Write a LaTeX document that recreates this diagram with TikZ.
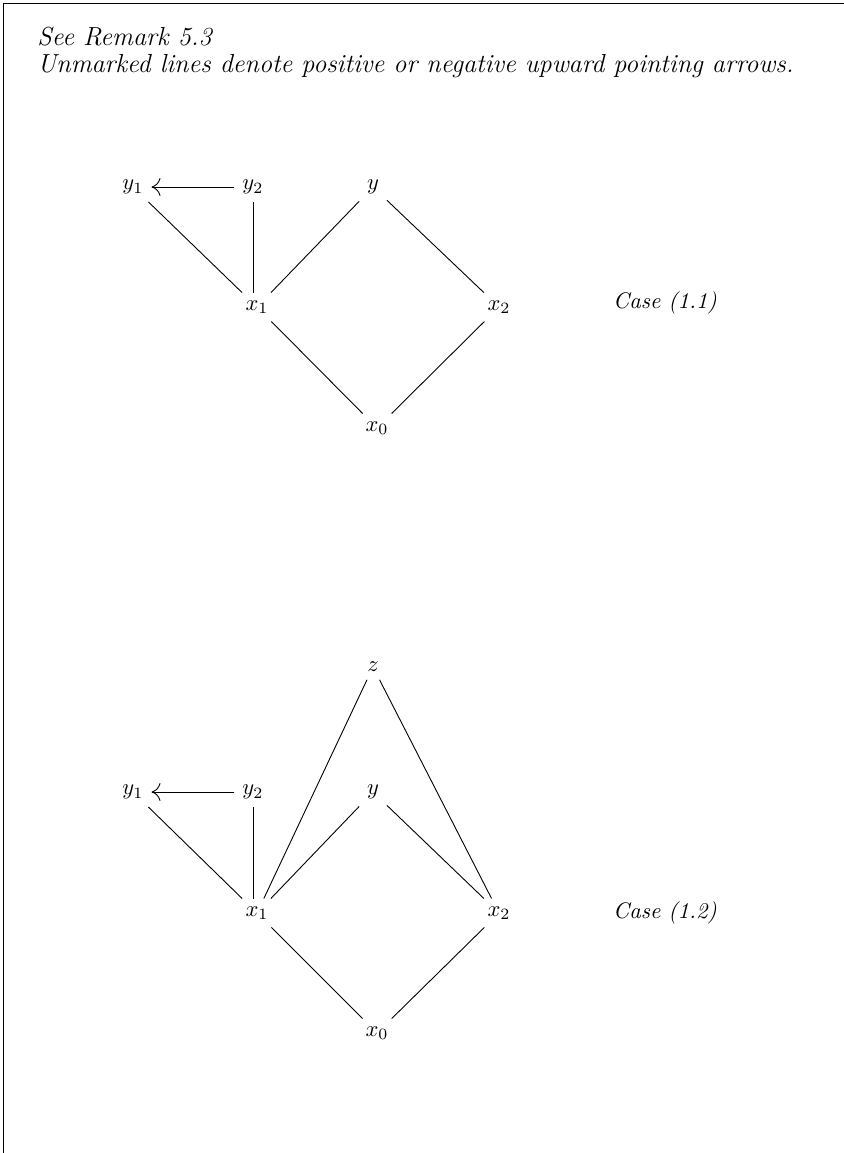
\documentclass[tikz,border=0pt]{standalone}
\usetikzlibrary{arrows.meta}
\begin{document}
\begin{tikzpicture}[x=0.4444pt,y=-0.4444pt,
  hdr/.style={anchor=base west,inner sep=0pt,font=\fontsize{11.6}{13.5}\selectfont\itshape},
  arr/.style={-{Computer Modern Rightarrow[length=4pt,width=8pt]}}]
  \useasboundingbox (0,0) rectangle (844,1153);
  \draw (3,1153)--(3,3)--(844,3);
  \node[hdr] (rem) at (37,45) {See Remark 5.3};
  \node[hdr] (unm) at (37,72) {Unmarked lines denote positive or negative upward pointing arrows.};
  % Case (1.1)
  \node (ya) at (133,187) {$y_1$}; \node (yb) at (253,187) {$y_2$};
  \node (y) at (373,187) {$y$};
  \node (xa) at (257,307) {$x_1$}; \node (xb) at (499,307) {$x_2$};
  \node (xo) at (377,428) {$x_0$};
  \node (ca) at (665,303) {\itshape Case (1.1)};
  \draw[arr] (yb)--(ya);
  \draw (ya)--(xa); \draw (yb.south)--(yb.south|-xa.north);
  \draw (y)--(xa); \draw (y)--(xb);
  \draw (xa)--(xo); \draw (xb)--(xo);
  % Case (1.2)
  \node (z') at (373,667) {$z$};
  \node (ya') at (133,792) {$y_1$}; \node (yb') at (253,792) {$y_2$};
  \node (y') at (373,792) {$y$};
  \node (xa') at (257,913) {$x_1$}; \node (xb') at (499,913) {$x_2$};
  \node (xo') at (377,1033) {$x_0$};
  \node (cb) at (665,913) {\itshape Case (1.2)};
  \draw[arr] (yb')--(ya');
  \draw (ya')--(xa'); \draw (yb'.south)--(yb'.south|-xa'.north);
  \draw (y')--(xa'); \draw (y')--(xb');
  \draw (z')--(xa'); \draw (z')--(xb');
  \draw (xa')--(xo'); \draw (xb')--(xo');
\end{tikzpicture}
\end{document}
